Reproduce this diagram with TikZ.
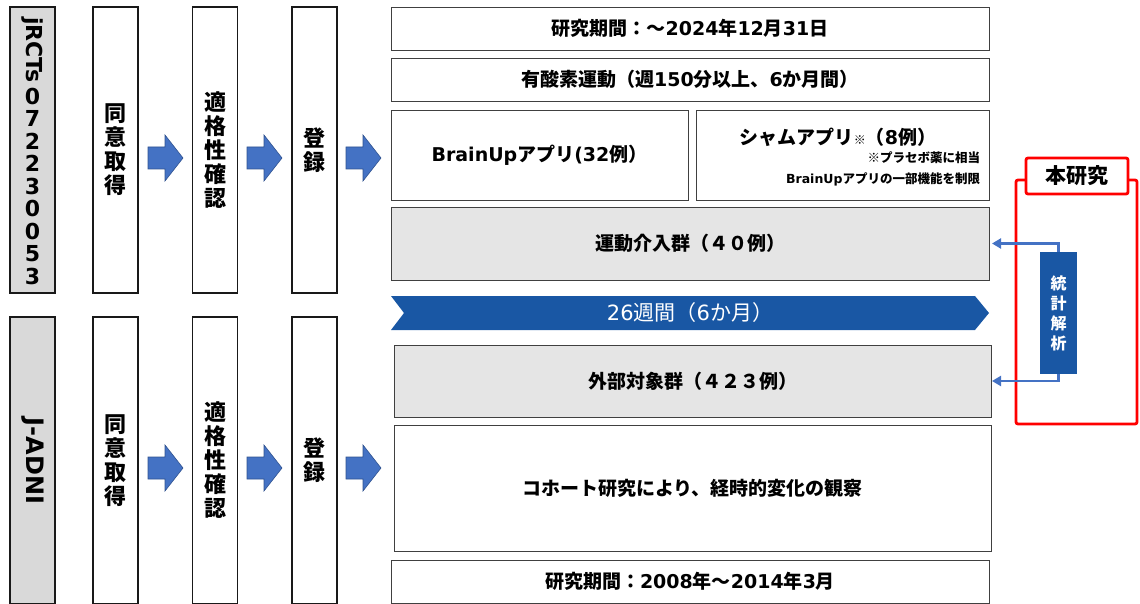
\documentclass[tikz,border=0pt]{standalone}
\usepackage{fontspec}
\setmainfont{Noto Sans CJK JP}
\newfontfamily\lat{DejaVu Sans}
\usetikzlibrary{arrows.meta}
\definecolor{arrowblue}{HTML}{4472C4}
\definecolor{arrowedge}{HTML}{2F528F}
\definecolor{navy}{HTML}{1957A4}
\definecolor{boxgray}{HTML}{E5E5E5}
\definecolor{labelgray}{HTML}{D9D9D9}
\definecolor{redframe}{HTML}{FF0000}
\begin{document}
\begin{tikzpicture}[x=1pt,y=-1pt,
  every node/.style={inner sep=0pt, outer sep=0pt},
  tallbox/.style={draw=black!90, line width=1.1pt, fill=white, minimum width=45, align=center},
  idbox/.style={draw=black!90, line width=1.1pt, fill=labelgray, minimum width=45},
  rbox/.style={draw=black!75, line width=0.9pt, fill=white, align=center},
  gbox/.style={rbox, fill=boxgray},
  big/.style={font=\fontsize{19}{22}\selectfont\bfseries},
  small/.style={font=\fontsize{12.5}{15}\selectfont\bfseries},
  vert/.style={font=\fontsize{22}{24}\selectfont\bfseries, align=center},
  conn/.style={draw=arrowblue, line width=2.7pt, -{Triangle[length=9pt,width=10pt]}},
  blockarrow/.pic={\draw[fill=arrowblue, draw=arrowedge, line width=0.6pt] (0,-11) -- (17,-11) -- (17,-23) -- (35,0) -- (17,23) -- (17,11) -- (0,11) -- cycle;}
]
\useasboundingbox (0,0) rectangle (1140,604);

% ---------- upper row (jRCT) ----------
\node[idbox, minimum height=286] (id1) at (32.5,150) {};
\node[rotate=-90, font=\fontsize{22}{22}\selectfont\bfseries\lat] (id1a) at (32.5,50) {jRCTs};
\node[align=center, font=\fontsize{22}{22.5}\selectfont\bfseries\lat] (id1b) at (32.5,186) {0\\7\\2\\2\\3\\0\\0\\5\\3};

\node[tallbox, minimum height=286, vert] (cons1) at (115.5,150) {同\\意\\取\\得};
\node[tallbox, minimum height=286, vert] (elig1) at (215,150) {適\\格\\性\\確\\認};
\node[tallbox, minimum height=286, vert] (reg1) at (314.5,150) {登\\録};
\pic at (148,158) {blockarrow};
\pic at (247,158) {blockarrow};
\pic at (346,158) {blockarrow};

% ---------- lower row (J-ADNI) ----------
\node[idbox, minimum height=287] (id2) at (32.5,460.5) {};
\node[rotate=-90, font=\fontsize{24}{24}\selectfont\bfseries\lat] (id2a) at (32.5,461) {J-ADNI};
\node[tallbox, minimum height=287, vert] (cons2) at (115.5,460.5) {同\\意\\取\\得};
\node[tallbox, minimum height=287, vert] (elig2) at (215,460.5) {適\\格\\性\\確\\認};
\node[tallbox, minimum height=287, vert] (reg2) at (314.5,460.5) {登\\録};
\pic at (148,468) {blockarrow};
\pic at (247,468) {blockarrow};
\pic at (346,468) {blockarrow};

% ---------- right column ----------
\node[rbox, big, minimum width=598, minimum height=43] (per1) at (690,28.5) {研究期間：～{\lat 2024}年{\lat 12}月{\lat 31}日};
\node[rbox, big, minimum width=598, minimum height=43] (aer) at (690,79.5) {有酸素運動（週{\lat 150}分以上、{\lat 6}か月間）};
\node[rbox, big, minimum width=297, minimum height=90] (app) at (539.5,155) {{\lat BrainUp}アプリ{\lat (32}例）};
\node[rbox, minimum width=293, minimum height=90] (sham) at (842.5,155) {};
\node[big, anchor=center] (shamt) at (838,137) {シャムアプリ{\fontsize{12}{12}\selectfont ※}（{\lat 8}例）};
\node[small, anchor=east] (shamn1) at (980,158) {※プラセボ薬に相当};
\node[small, anchor=east] (shamn2) at (980,179) {{\lat BrainUp}アプリの一部機能を制限};
\node[gbox, big, minimum width=598, minimum height=73] (ex) at (690,243.5) {運動介入群（４０例）};

\fill[navy] (391,296) -- (975,296) -- (989,313) -- (975,330) -- (391,330) -- (404,313) -- cycle;
\node[font=\fontsize{21}{23}\selectfont, text=white] (band) at (690,313) {{\lat 26}週間（{\lat 6}か月）};

\node[gbox, big, minimum width=597, minimum height=72] (ext) at (692.5,381) {外部対象群（４２３例）};
\node[rbox, big, minimum width=597, minimum height=126] (coh) at (692.5,488) {コホート研究により、経時的変化の観察};
\node[rbox, big, minimum width=598, minimum height=43] (per2) at (690,581.5) {研究期間：{\lat 2008}年～{\lat 2014}年{\lat 3}月};

% ---------- this study ----------
\draw[redframe, line width=2.8pt, rounded corners=2pt] (1016,180) rectangle (1137,424);
\node[draw=redframe, line width=2.8pt, fill=white, minimum width=102, minimum height=36, rounded corners=2pt, font=\fontsize{21}{22}\selectfont\bfseries] (this) at (1077,176) {本研究};
\node[fill=navy, minimum width=37, minimum height=122, text=white, align=center, font=\fontsize{16}{20}\selectfont\bfseries] (stat) at (1058.5,313) {統\\計\\解\\析};
\draw[conn] (stat.north) |- ([xshift=3]ex.east);
\draw[conn] (stat.south) |- ([xshift=1]ext.east);
\end{tikzpicture}
\end{document}
